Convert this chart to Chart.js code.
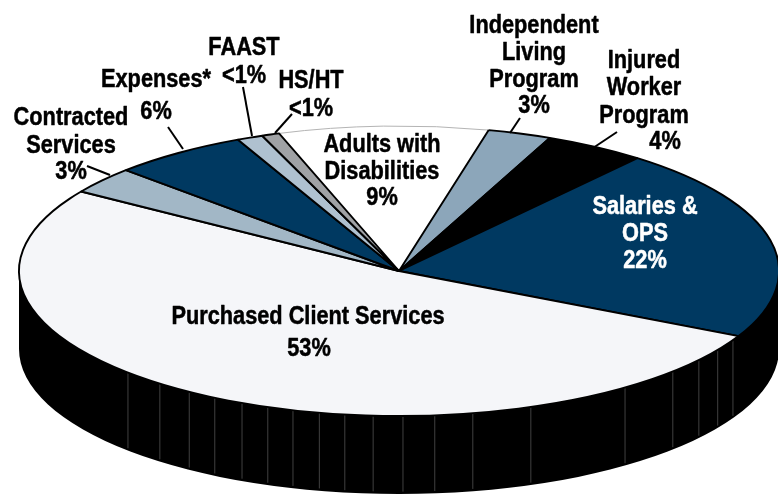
<!DOCTYPE html>
<html>
<head>
<meta charset="utf-8">
<style>html,body{margin:0;padding:0;background:#fff}canvas{display:block}</style>
<script src="https://cdn.jsdelivr.net/npm/chart.js@4"></script>
</head>
<body>
<canvas id="c" width="778" height="494"></canvas>
<script>
// Slice order follows the picture clockwise, starting at the white slice.
const categories = ['Adults with Disabilities','Independent Living Program','Injured Worker Program','Salaries & OPS','Purchased Client Services','Contracted Services','Expenses*','FAAST','HS/HT'];
const sliceValues = [8.9,2.7,4.3,21.6,51.8,3.0,5.8,1.1,0.75];
const percentLabels = ['9%','3%','4%','22%','53%','3%','6%','<1%','<1%'];
const sliceColors = ['#ffffff','#8ca6ba','#000000','#003961','#f5f6f9','#a2b7c6','#003961','#afc1d0','#a0a2a5'];
const sliceBorders = ['#b4b4b4','#000','#000','#000','#000','#000','#000','#000','#000'];
const sliceBorderWidths = [1,1.9,1.9,1.9,1.9,1.9,1.9,1.9,1.9];
const startAngleDeg = -18.4;
const sideSeamAnglesDeg = [225.5,219,213.5,209,204.4,200.2,196.2,192.1,188.2,183.9,179.4,174.6,168.8,159.7,143.5,133.9,127.9,123,118.5];

const view = {cx:399, cy:271, rx:380, ry:145, depth:78};
const FONT = 'bold 25px "Liberation Sans",Arial,sans-serif';
const TEXT_SQUEEZE = 0.87;
const labelBlocks = [
  {lines:[['Independent',534,26],['Living',534,53],['Program',534,80],[percentLabels[1],534,106]]},
  {lines:[['Injured',644,61],['Worker',644,88],['Program',644,116],[percentLabels[2],665,142]]},
  {color:'#fff',lines:[['Salaries &',645,207],['OPS',645,234],[percentLabels[3],645,261]]},
  {lines:[['Adults with',382,145],['Disabilities',382,172],[percentLabels[0],382,198]]},
  {lines:[['Purchased Client Services',308,317],[percentLabels[4],309,349]]},
  {lines:[['Contracted',71,118],['Services',71,146],[percentLabels[5],71,172]]},
  {lines:[['Expenses*',156,80],[percentLabels[6],156,112]]},
  {lines:[['FAAST',244,48],[percentLabels[7],244,76]]},
  {lines:[['HS/HT',311,81],[percentLabels[8],311,109]]}
];
const leaders = [[87,166,110,175],[168,127,183,149],[243,87,252,136],[292,114,275,133],[520,118,510,133],[617,132,593,148]];

const pie3d = {
  id:'pie3d',
  beforeDatasetsDraw(chart){
    const ctx = chart.ctx, arc = chart.getDatasetMeta(0).data[0];
    const R = arc.outerRadius, sx = view.rx/R, sy = view.ry/R;
    ctx.save();
    ctx.fillStyle = '#fff';
    ctx.fillRect(0,0,chart.width,chart.height);
    // extruded side, positioned from the arc's own centre and radius
    ctx.translate(view.cx,view.cy); ctx.scale(sx,sy); ctx.translate(-arc.x,-arc.y);
    const d = view.depth/sy;
    ctx.beginPath();
    ctx.arc(arc.x,arc.y,R,Math.PI,0,true);
    ctx.lineTo(arc.x+R,arc.y+d);
    ctx.arc(arc.x,arc.y+d,R,0,Math.PI,false);
    ctx.closePath();
    ctx.fillStyle='#000'; ctx.fill();
    const proto = CanvasRenderingContext2D.prototype;
    const I = new DOMMatrix();
    sideSeamAnglesDeg.forEach(a=>{
      const t = a*Math.PI/180;
      const x = arc.x+R*Math.sin(t), y = arc.y-R*Math.cos(t);
      ctx.beginPath(); ctx.moveTo(x,y); ctx.lineTo(x,y+d*0.97);
      const m = ctx.getTransform(); ctx.setTransform(I);
      ctx.strokeStyle='#404040'; ctx.lineWidth=1; proto.stroke.call(ctx);
      ctx.setTransform(m);
    });
    // keep pen width even on the squashed slices
    ctx.stroke = function(){ const m=this.getTransform(); this.setTransform(I); proto.stroke.call(this); this.setTransform(m); };
  },
  afterDatasetsDraw(chart){
    const ctx = chart.ctx;
    delete ctx.stroke;
    ctx.restore();
    ctx.save();
    ctx.strokeStyle='#000'; ctx.lineWidth=2;
    leaders.forEach(l=>{ctx.beginPath();ctx.moveTo(l[0],l[1]);ctx.lineTo(l[2],l[3]);ctx.stroke();});
    ctx.font=FONT; ctx.textAlign='center'; ctx.textBaseline='middle'; ctx.lineJoin='round';
    labelBlocks.forEach(b=>{
      ctx.fillStyle=b.color||'#000';
      ctx.strokeStyle=b.color||'#000'; ctx.lineWidth=0.5;
      b.lines.forEach(l=>{
        ctx.save();
        ctx.translate(l[1],l[2]); ctx.scale(TEXT_SQUEEZE,1);
        ctx.fillText(l[0],0,0);
        ctx.strokeText(l[0],0,0);
        ctx.restore();
      });
    });
    ctx.restore();
  }
};

new Chart(document.getElementById('c'),{
  type:'pie',
  data:{labels:categories,datasets:[{data:sliceValues,backgroundColor:sliceColors,borderColor:sliceBorders,borderWidth:sliceBorderWidths,clip:false}]},
  options:{responsive:false,animation:false,rotation:startAngleDeg,layout:{padding:0},
    plugins:{legend:{display:false},tooltip:{enabled:false},title:{display:false}}},
  plugins:[pie3d]
});
</script>
</body>
</html>
